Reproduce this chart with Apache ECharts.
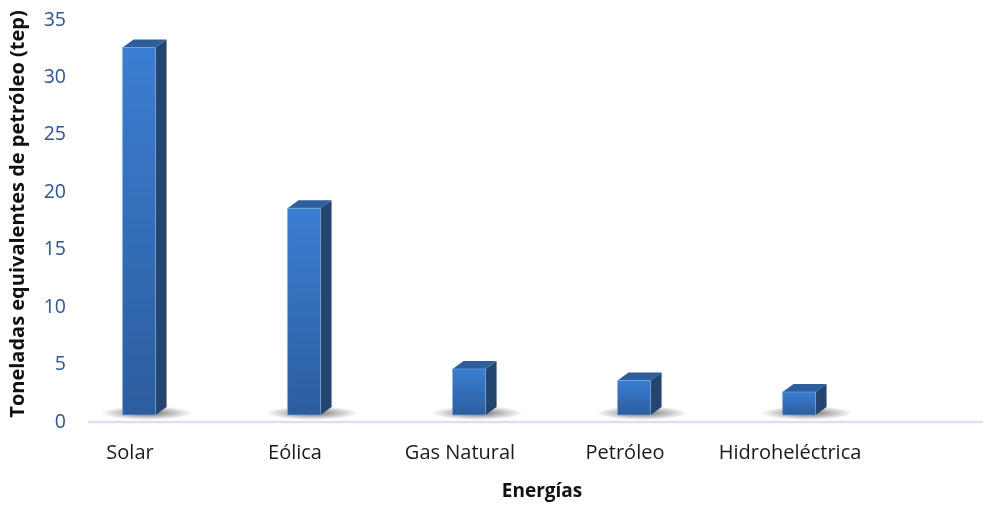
<!DOCTYPE html>
<html>
<head>
<meta charset="utf-8">
<script src="https://cdn.jsdelivr.net/npm/echarts@6/dist/echarts.min.js"></script>
<style>
html,body{margin:0;padding:0;background:#fff;}
#c{width:983px;height:506px;}
</style>
</head>
<body>
<div id="c"></div>
<script>
const categories = ['Solar', 'Eólica', 'Gas Natural', 'Petróleo', 'Hidroheléctrica'];
const values = [32, 18, 4, 3, 2];
const yTicks = { min: 0, max: 35, interval: 5 };

const chart = echarts.init(document.getElementById('c'), null, { renderer: 'canvas' });
const FONT = '"Open Sans", "Noto Sans", sans-serif';

function renderBar(params, api) {
  const i = api.value(0), v = api.value(1);
  const base = api.coord([i, 0]);
  const top = api.coord([i, v]);
  const bw = api.size([1, 0])[0];
  const w = bw * 0.2;
  const off = bw * 0.055;
  const lift = 7;
  const dx = 11, dy = 8;
  const x0 = base[0] + off - w / 2, x1 = x0 + w;
  const yb = base[1] - lift, yt = top[1] - lift;
  return {
    type: 'group',
    children: [
      {
        type: 'circle',
        x: x0 + w / 2 + 8, y: yb - 2,
        scaleY: 0.15,
        shape: { cx: 0, cy: 0, r: 46 },
        style: {
          fill: new echarts.graphic.RadialGradient(0.5, 0.5, 0.5, [
            { offset: 0, color: 'rgba(0,0,0,0.6)' },
            { offset: 0.5, color: 'rgba(0,0,0,0.28)' },
            { offset: 1, color: 'rgba(0,0,0,0)' }
          ])
        },
        z2: 0
      },
      {
        type: 'polygon',
        shape: { points: [[x1, yb], [x1 + dx, yb - dy], [x1 + dx, yt - dy], [x1, yt]] },
        style: { fill: '#234570' },
        z2: 1
      },
      {
        type: 'polygon',
        shape: { points: [[x0, yt], [x0 + dx, yt - dy], [x1 + dx, yt - dy], [x1, yt]] },
        style: { fill: '#2e5e9c' },
        z2: 1
      },
      {
        type: 'rect',
        shape: { x: x0, y: yt, width: w, height: yb - yt },
        style: {
          fill: new echarts.graphic.LinearGradient(0, 0, 0, 1, [
            { offset: 0, color: '#3b7ed2' },
            { offset: 1, color: '#2c5d9e' }
          ]),
          stroke: 'rgba(120,170,230,0.6)', lineWidth: 0.6
        },
        z2: 2
      }
    ]
  };
}

chart.setOption({
  animation: false,
  backgroundColor: '#ffffff',
  grid: { left: 47.5, right: 110.5, top: 20, bottom: 82, containLabel: false },
  xAxis: {
    type: 'category',
    data: categories,
    axisLine: { show: false },
    axisTick: { show: false },
    axisLabel: { color: '#1a1a1a', fontFamily: FONT, fontSize: 20, margin: 21, interval: 0 },
    name: 'Energías',
    nameLocation: 'middle',
    nameGap: 60,
    nameTextStyle: { color: '#111', fontFamily: FONT, fontSize: 19, fontWeight: 'bold', padding: [0, 0, 0, 164] }
  },
  yAxis: {
    type: 'value',
    min: yTicks.min, max: yTicks.max, interval: yTicks.interval,
    offset: -26.5,
    axisLine: { show: false },
    axisTick: { show: false },
    splitLine: { show: false },
    axisLabel: { color: '#2d5593', fontFamily: FONT, fontSize: 19.5, margin: 8, padding: [3, 0, 0, 0] },
    name: 'Toneladas equivalentes de petróleo (tep)',
    nameLocation: 'middle',
    nameGap: 46,
    nameRotate: 90,
    nameTextStyle: { color: '#111', fontFamily: FONT, fontSize: 20, fontWeight: 'bold', padding: [0, 0, 0, 14] }
  },
  series: [{
    type: 'custom',
    renderItem: renderBar,
    data: values.map((v, i) => [i, v]),
    encode: { x: 0, y: 1 },
    z: 3
  }]
});

const y0 = chart.convertToPixel({ yAxisIndex: 0 }, 0);
chart.setOption({
  graphic: [{
    type: 'line',
    z: 1,
    shape: { x1: 88, y1: y0, x2: 983, y2: y0 },
    style: { stroke: '#d6e2f4', lineWidth: 2.5 }
  }]
});
</script>
</body>
</html>
